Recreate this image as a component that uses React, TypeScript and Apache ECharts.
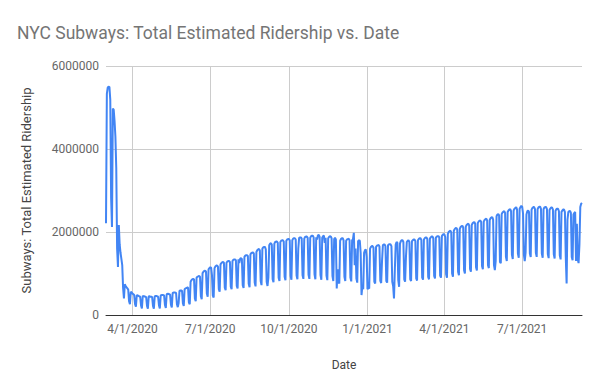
import React, { useEffect, useRef } from "react";
import * as echarts from "echarts";

// Daily ridership in thousands, starting Sunday 3/1/2020; each row is one week (Sun..Sat).
const startDateLabel = "3/1/2020";
const dailyRidershipK: number[] = [
  2213, 5330, 5481, 5499, 5496, 5189, 2815,
  2121, 4973, 4950, 4680, 4300, 3550, 1600,
  1160, 2170, 1700, 1500, 1350, 1200, 650,
  400, 740, 700, 670, 640, 610, 330,
  260, 560, 540, 520, 500, 480, 260,
  200, 480, 470, 460, 450, 440, 230,
  160, 460, 450, 450, 440, 430, 220,
  150, 450, 450, 440, 440, 430, 220,
  150, 450, 460, 460, 450, 440, 230,
  160, 470, 480, 480, 480, 470, 240,
  170, 500, 510, 510, 500, 490, 250,
  180, 530, 540, 540, 540, 530, 260,
  190, 290, 580, 590, 590, 580, 280,
  220, 620, 640, 650, 660, 660, 300,
  260, 800, 840, 860, 870, 860, 400,
  330, 900, 920, 930, 940, 920, 450,
  380, 1010, 1040, 1060, 1070, 1050, 520,
  440, 1100, 1130, 1150, 1140, 960, 470,
  420, 1130, 1170, 1190, 1190, 1170, 620,
  560, 1220, 1250, 1270, 1280, 1260, 660,
  600, 1260, 1290, 1300, 1300, 1280, 680,
  620, 1300, 1330, 1340, 1340, 1320, 700,
  640, 1340, 1250, 1360, 1370, 1350, 720,
  650, 1400, 1430, 1440, 1440, 1420, 750,
  670, 1460, 1490, 1500, 1510, 1480, 780,
  690, 1520, 1560, 1580, 1590, 1560, 820,
  720, 1600, 1630, 1640, 1640, 1580, 800,
  700, 900, 1680, 1720, 1730, 1700, 860,
  790, 1720, 1760, 1770, 1770, 1740, 900,
  820, 1760, 1790, 1800, 1800, 1770, 920,
  840, 1790, 1820, 1830, 1830, 1800, 940,
  850, 1800, 1840, 1850, 1850, 1820, 950,
  860, 1600, 1860, 1870, 1870, 1840, 960,
  870, 1840, 1880, 1890, 1890, 1860, 970,
  870, 1860, 1900, 1910, 1910, 1870, 980,
  860, 1870, 1820, 1920, 1930, 1880, 960,
  850, 1860, 1900, 1910, 1740, 1860, 950,
  840, 1850, 1880, 1900, 1890, 1850, 940,
  820, 1830, 1860, 1820, 640, 1100, 800,
  760, 1790, 1830, 1850, 1850, 1800, 920,
  820, 1790, 1820, 1830, 1840, 1800, 900,
  810, 1800, 1830, 1980, 1200, 1600, 880,
  780, 1780, 1800, 1790, 1500, 480, 700,
  620, 1500, 1560, 1580, 1400, 620, 650,
  640, 1600, 1640, 1660, 1660, 1620, 800,
  760, 1640, 1670, 1680, 1690, 1650, 820,
  770, 1300, 1680, 1700, 1700, 1660, 820,
  780, 1680, 1700, 1710, 1700, 1660, 800,
  700, 400, 1100, 1700, 1760, 1740, 840,
  680, 1720, 1780, 1800, 1800, 1760, 860,
  800, 1400, 1760, 1790, 1800, 1760, 860,
  820, 1780, 1800, 1820, 1820, 1780, 880,
  830, 1800, 1830, 1850, 1850, 1810, 900,
  850, 1820, 1850, 1870, 1870, 1830, 920,
  860, 1840, 1870, 1890, 1890, 1850, 940,
  880, 1860, 1890, 1900, 1900, 1870, 950,
  900, 1900, 1930, 1950, 1940, 1880, 980,
  900, 1950, 2000, 2020, 2030, 1990, 1000,
  920, 2030, 2070, 2090, 2100, 2060, 1040,
  960, 2080, 2120, 2140, 2150, 2110, 1080,
  1000, 2130, 2170, 2190, 2200, 2160, 1110,
  1040, 2170, 2210, 2230, 2240, 2200, 1150,
  1070, 2210, 2250, 2270, 2280, 2240, 1180,
  1100, 2250, 2290, 2310, 2320, 2280, 1200,
  1130, 2290, 2330, 2350, 2360, 2300, 1200,
  1080, 1300, 2380, 2420, 2430, 2400, 1280,
  1250, 2430, 2470, 2490, 2500, 2460, 1400,
  1300, 2480, 2520, 2540, 2550, 2500, 1450,
  1350, 2520, 2560, 2580, 2600, 2540, 1480,
  1380, 2560, 2600, 2630, 2610, 2450, 1450,
  1300, 1500, 2420, 2500, 2520, 2480, 1480,
  1400, 2540, 2580, 2600, 2600, 2550, 1500,
  1400, 2550, 2590, 2610, 2610, 2560, 1480,
  1380, 2550, 2590, 2600, 2600, 2550, 1470,
  1370, 2530, 2570, 2590, 2590, 2540, 1460,
  1360, 2510, 2550, 2560, 2560, 2500, 1440,
  1340, 2480, 2520, 2540, 2540, 2480, 1400,
  760, 2300, 2480, 2500, 2510, 2460, 1400,
  1320, 2420, 2460, 2480, 1300, 2200, 1350,
  1250, 1700, 2600, 2680, 2700,
];

const xTickLabels = ["4/1/2020", "7/1/2020", "10/1/2020", "1/1/2021", "4/1/2021", "7/1/2021"];
const yTickValues = [0, 2000000, 4000000, 6000000];

const titleText = "NYC Subways: Total Estimated Ridership vs. Date";
const xAxisName = "Date";
const yAxisName = "Subways: Total Estimated Ridership";

const DAY = 86400000;
const parseMDY = (s: string) => {
  const [m, d, y] = s.split("/").map(Number);
  return Date.UTC(y, m - 1, d);
};
const fmtMDY = (t: number) => {
  const d = new Date(t);
  return `${d.getUTCMonth() + 1}/${d.getUTCDate()}/${d.getUTCFullYear()}`;
};

export default function App() {
  const ref = useRef<HTMLDivElement>(null);
  useEffect(() => {
    if (!ref.current) return;
    const chart = echarts.init(ref.current, undefined, { renderer: "svg" });
    const start = parseMDY(startDateLabel);
    const data = dailyRidershipK.map((v, i) => [start + i * DAY, v * 1000]);
    const tickTimes = xTickLabels.map(parseMDY);
    const font = "Roboto, Arial, sans-serif";
    chart.setOption({
      animation: false,
      backgroundColor: "#ffffff",
      title: {
        text: titleText,
        left: 4,
        top: 11,
        textStyle: { fontFamily: font, fontSize: 17.5, fontWeight: "normal", color: "#757575" },
      },
      grid: { left: 98, right: 10, top: 58, bottom: 69, containLabel: false },
      xAxis: {
        type: "value",
        min: start,
        max: start + (dailyRidershipK.length - 1) * DAY,
        name: xAxisName,
        nameLocation: "middle",
        nameGap: 44,
        nameTextStyle: { fontFamily: font, fontSize: 12, color: "#444" },
        axisLine: { show: true, lineStyle: { color: "#333", width: 1 } },
        axisTick: { show: false, customValues: tickTimes },
        axisLabel: {
          customValues: tickTimes,
          formatter: (v: number) => fmtMDY(v),
          fontFamily: font,
          fontSize: 12,
          color: "#666",
          margin: 8,
          hideOverlap: false,
        },
        splitLine: { show: true, lineStyle: { color: "#cccccc", width: 1 } },
      },
      yAxis: {
        type: "value",
        min: yTickValues[0],
        max: yTickValues[yTickValues.length - 1],
        interval: yTickValues[1] - yTickValues[0],
        name: yAxisName,
        nameLocation: "middle",
        nameGap: 73,
        nameTextStyle: { fontFamily: font, fontSize: 13, color: "#444" },
        axisLine: { show: false },
        axisTick: { show: false },
        axisLabel: {
          formatter: (v: number) => String(v),
          fontFamily: font,
          fontSize: 12,
          color: "#666",
          margin: 7,
        },
        splitLine: { show: true, lineStyle: { color: "#cccccc", width: 1 } },
      },
      series: [
        {
          type: "line",
          data,
          showSymbol: false,
          symbol: "none",
          lineStyle: { color: "#4285f4", width: 2 },
          itemStyle: { color: "#4285f4" },
        },
      ],
    });
    return () => chart.dispose();
  }, []);
  return <div ref={ref} style={{ width: 584, height: 376 }} />;
}
